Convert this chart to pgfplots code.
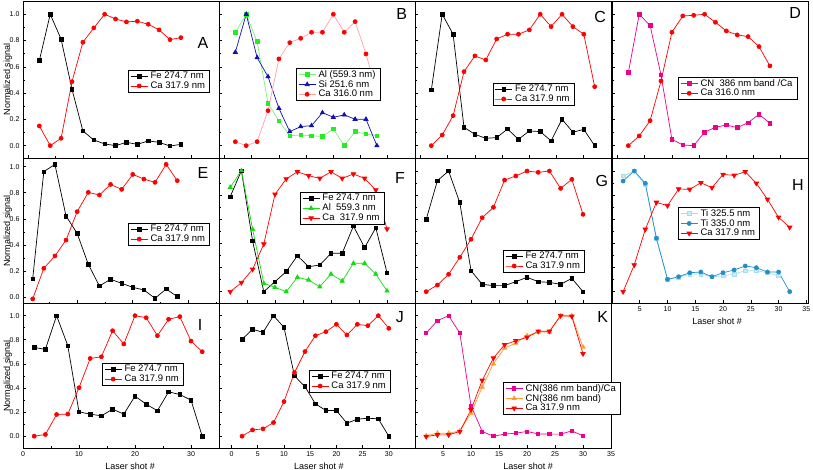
\documentclass[border=0pt]{standalone}
\usepackage{fontspec}
\setmainfont{Liberation Sans}
\usepackage{pgfplots}
\pgfplotsset{compat=1.18}
\definecolor{caPink}{HTML}{FF9FA8}
\definecolor{alGreen}{HTML}{22EE22}
\definecolor{alLine}{HTML}{7CF07C}
\definecolor{siBlue}{HTML}{1010B0}
\definecolor{tiLight}{HTML}{A8DCF0}
\definecolor{tiDark}{HTML}{1E8FC8}
\definecolor{cnOrange}{HTML}{FF9A30}
\definecolor{fGreen}{HTML}{11DD11}
\tikzset{letter/.style={font=\fontsize{16}{16}\selectfont}}
\pgfplotsset{
  panel/.style={
    scale only axis, width=196pt,
    axis line style={line width=0.8pt},
    tick align=inside, xtick pos=bottom, ytick pos=left,
    major tick length=3pt, minor tick length=1.8pt,
    every tick/.style={black, line width=0.6pt},
    ytick={0,0.2,0.4,0.6,0.8,1}, minor ytick={0.1,0.3,0.5,0.7,0.9},
    yticklabels={}, xticklabels={},
    xtick={0,5,10,15,20,25,30,35},
    /pgf/number format/assume math mode=true,
    tick label style={font=\fontsize{7}{8}\selectfont},
    label style={font=\fontsize{9}{10}\selectfont},
    legend cell align=left,
    legend style={draw=black, line width=0.5pt, font=\fontsize{9.5}{10}\selectfont,
      anchor=north west, inner xsep=2pt, inner ysep=1.2pt, row sep=0pt,
      nodes={inner ysep=0.8pt, inner xsep=2.5pt}},
    every axis plot/.append style={line width=0.7pt},
  },
  col1/.style={ytick={0,0.2,0.4,0.6,0.8,1}, yticklabels={0.0,0.2,0.4,0.6,0.8,1.0},
    ylabel={Normalized signal},
    ylabel style={at={(axis description cs:-0.077,0.5)}, anchor=center},
    xtick={0,10,20,30}, minor xtick={5,15,25,35}},
  xlab/.style={xlabel={Laser shot \#},
    xlabel style={at={(axis description cs:#1,0)}, anchor=center, yshift=-18pt}},
  row1/.style={height=157pt, ymin=-0.094, ymax=1.101},
  row3/.style={height=144.5pt, ymin=-0.098, ymax=1.101},
  rowtwo/.style={height=145.5pt, ymin=-0.098, ymax=1.108},
  fe/.style={black, mark=square*, mark size=1.8pt, mark options={solid}},
  ca/.style={red, mark=*, mark size=2pt, mark options={solid}},
  catri/.style={red, mark=triangle*, mark size=2.6pt, mark options={solid, rotate=180}},
}
\begin{document}
\begin{tikzpicture}
\useasboundingbox (0pt,0pt) rectangle (813pt,470pt);
% ---------------- Row 1 ----------------
% A
\begin{axis}[panel, row1, col1, at={(23pt,312pt)}, xmin=-1, xmax=35,
  legend style={at={(axis description cs:0.536,0.561)}}]
\addplot[fe] coordinates {(2,0.647)(4,1.0)(6,0.81)(8,0.429)(10,0.112)(12,0.043)(14,0.013)(16,0.0)(18,0.025)(20,0.010)(22,0.036)(24,0.025)(26,-0.003)(28,0.010)};
\addplot[ca] coordinates {(2,0.150)(4,0.0)(6,0.056)(8,0.487)(10,0.787)(12,0.896)(14,1.0)(16,0.964)(18,0.942)(20,0.947)(22,0.924)(24,0.881)(26,0.807)(28,0.822)};
\legend{Fe 274.7 nm, Ca 317.9 nm}
\node[letter] at (rel axis cs:0.918,0.732) {A};
\end{axis}
% B
\begin{axis}[panel, row1, at={(219pt,312pt)}, xmin=-1, xmax=35,
  legend style={at={(axis description cs:0.393,0.573)}}]
\addplot[alLine, mark=square*, mark size=1.8pt, mark options={solid, fill=alGreen, draw=alGreen}] coordinates {(2,0.863)(4,1.0)(6,0.792)(8,0.322)(10,0.188)(12,0.076)(14,0.081)(16,0.076)(18,0.069)(20,0.127)(22,0.0)(24,0.107)(26,0.089)(28,0.076)};
\addplot[siBlue, mark=triangle*, mark size=2.4pt, mark options={solid, fill=siBlue}] coordinates {(2,0.711)(4,1.0)(6,0.670)(8,0.525)(10,0.284)(12,0.107)(14,0.145)(16,0.152)(18,0.251)(20,0.216)(22,0.234)(24,0.201)(26,0.201)(28,0.0)};
\addplot[caPink, mark=*, mark size=2pt, mark options={solid, fill=red, draw=red}] coordinates {(2,0.030)(4,0.0)(6,0.030)(8,0.266)(10,0.660)(12,0.784)(14,0.817)(16,0.863)(18,0.863)(20,1.0)(22,0.863)(24,0.944)(26,0.698)(28,0.404)};
\legend{Al (559.3 nm), Si 251.6 nm, Ca 316.0 nm}
\node[letter] at (rel axis cs:0.932,0.917) {B};
\end{axis}
% C
\begin{axis}[panel, row1, at={(415pt,312pt)}, xmin=-1, xmax=35,
  legend style={at={(axis description cs:0.396,0.478)}}]
\addplot[fe] coordinates {(2,0.424)(4,1.0)(6,0.848)(8,0.140)(10,0.086)(12,0.056)(14,0.061)(16,0.127)(18,0.048)(20,0.112)(22,0.107)(24,0.036)(26,0.201)(28,0.102)(30,0.124)(32,0.0)};
\addplot[ca] coordinates {(2,0.0)(4,0.081)(6,0.228)(8,0.563)(10,0.683)(12,0.652)(14,0.812)(16,0.848)(18,0.848)(20,0.881)(22,1.0)(24,0.906)(26,1.0)(28,0.906)(30,0.848)(32,0.449)};
\legend{Fe 274.7 nm, Ca 317.9 nm}
\node[letter] at (rel axis cs:0.944,0.898) {C};
\end{axis}
% D
\begin{axis}[panel, row1, at={(612pt,312pt)}, xmin=-1, xmax=35,
  legend style={at={(axis description cs:0.337,0.516)}}]
\addplot[magenta, mark=square*, mark size=1.8pt, mark options={solid}] coordinates {(2,0.556)(4,1.0)(6,0.914)(8,0.538)(10,0.048)(12,0.005)(14,0.0)(16,0.102)(18,0.140)(20,0.157)(22,0.137)(24,0.175)(26,0.239)(28,0.170)};
\addplot[ca] coordinates {(2,0.0)(4,0.074)(6,0.190)(8,0.492)(10,0.863)(12,0.987)(14,0.992)(16,1.0)(18,0.939)(20,0.873)(22,0.843)(24,0.830)(26,0.754)(28,0.607)};
\legend{CN~~386 nm band /Ca, Ca 316.0 nm}
\node[letter] at (rel axis cs:0.934,0.924) {D};
\end{axis}
% ---------------- Row 2 ----------------
% E
\begin{axis}[panel, col1, height=145.5pt, ymin=-0.05, ymax=1.067, at={(23pt,166.5pt)}, xmin=0.26, xmax=35.5,
  legend style={at={(axis description cs:0.536,0.553)}}]
\addplot[fe] coordinates {(2,0.138)(4,0.962)(6,1.018)(8,0.621)(10,0.488)(12,0.251)(14,0.084)(16,0.136)(18,0.105)(20,0.074)(22,0.054)(24,-0.010)(26,0.061)(28,0.003)};
\addplot[ca] coordinates {(2,-0.015)(4,0.220)(6,0.315)(8,0.437)(10,0.655)(12,0.803)(14,0.783)(16,0.864)(18,0.826)(20,0.941)(22,0.905)(24,0.880)(26,1.018)(28,0.893)};
\legend{Fe 274.7 nm, Ca 317.9 nm}
\node[letter] at (rel axis cs:0.918,0.897) {E};
\end{axis}
% F
\begin{axis}[panel, rowtwo, at={(219pt,166.5pt)}, xmin=0, xmax=35,
  legend style={at={(axis description cs:0.413,0.766)}}]
\addplot[fe] coordinates {(2,0.787)(4,1.003)(6,0.420)(8,0.0)(10,0.083)(12,0.166)(14,0.298)(16,0.207)(18,0.221)(20,0.318)(22,0.318)(24,0.544)(26,0.365)(28,0.530)(30,0.157)};
\addplot[fGreen, mark=triangle*, mark size=2.4pt, mark options={solid}] coordinates {(2,0.865)(4,1.003)(6,0.517)(8,0.069)(10,0.036)(12,0.0)(14,0.119)(16,0.097)(18,0.041)(20,0.146)(22,0.088)(24,0.235)(26,0.235)(28,0.146)(30,0.006)};
\addplot[catri] coordinates {(2,0.0)(4,0.075)(6,0.185)(8,0.395)(10,0.807)(12,0.934)(14,0.994)(16,0.961)(18,0.939)(20,0.994)(22,0.939)(24,0.975)(26,0.939)(28,0.843)(30,0.519)};
\legend{Fe 274.7 nm, Al~~559.3 nm, Ca~~317.9 nm}
\node[letter] at (rel axis cs:0.923,0.863) {F};
\end{axis}
% G
\begin{axis}[panel, rowtwo, at={(415pt,166.5pt)}, xmin=0, xmax=35,
  legend style={at={(axis description cs:0.449,0.368)}}]
\addplot[fe] coordinates {(2,0.599)(4,0.920)(6,1.0)(8,0.738)(10,0.174)(12,0.061)(14,0.050)(16,0.050)(18,0.083)(20,0.119)(22,0.083)(24,0.077)(26,0.061)(28,0.110)(30,0.0)};
\addplot[ca] coordinates {(2,0.0)(4,0.055)(6,0.144)(8,0.285)(10,0.434)(12,0.613)(14,0.699)(16,0.925)(18,0.959)(20,1.0)(22,0.989)(24,1.0)(26,0.856)(28,0.931)(30,0.641)};
\legend{Fe 274.7 nm, Ca 317.9 nm}
\node[letter] at (rel axis cs:0.953,0.844) {G};
\end{axis}
% H
\begin{axis}[panel, rowtwo, xlab=0.536, at={(612pt,166.5pt)}, xmin=0, xmax=35.3,
  xtick={5,10,15,20,25,30,35}, xticklabels={5,10,15,20,25,30,35},
  legend style={at={(axis description cs:0.337,0.663)}}]
\addplot[tiLight, mark=square*, mark size=1.8pt, mark options={solid, fill=tiLight!60, draw=tiLight}] coordinates {(2,0.959)(4,1.0)(6,0.884)(8,0.442)(10,0.102)(12,0.119)(14,0.146)(16,0.146)(18,0.124)(20,0.130)(22,0.146)(24,0.174)(26,0.174)(28,0.157)(30,0.130)};
\addplot[tiDark, mark=*, mark size=2pt, mark options={solid}] coordinates {(2,0.917)(4,1.0)(6,0.898)(8,0.442)(10,0.102)(12,0.124)(14,0.157)(16,0.163)(18,0.124)(20,0.157)(22,0.180)(24,0.213)(26,0.199)(28,0.163)(30,0.163)(32,0.0)};
\addplot[catri] coordinates {(2,0.0)(4,0.221)(6,0.517)(8,0.740)(10,0.713)(12,0.851)(14,0.848)(16,0.903)(18,0.862)(20,0.972)(22,0.964)(24,0.994)(26,0.898)(28,0.765)(30,0.616)(32,0.533)};
\legend{Ti 325.5 nm, Ti 335.0 nm, Ca 317.9 nm}
\node[letter] at (rel axis cs:0.949,0.814) {H};
\end{axis}
% ---------------- Row 3 ----------------
% I
\begin{axis}[panel, row3, col1, xlab=0.546, at={(23pt,22pt)}, xmin=0, xmax=35,
  xticklabels={0,10,20,30},
  legend style={at={(axis description cs:0.403,0.588)}}]
\addplot[fe] coordinates {(2,0.737)(4,0.720)(6,1.0)(8,0.751)(10,0.202)(12,0.183)(14,0.169)(16,0.224)(18,0.183)(20,0.332)(22,0.266)(24,0.211)(26,0.368)(28,0.346)(30,0.299)(32,0.0)};
\addplot[ca] coordinates {(2,0.0)(4,0.014)(6,0.180)(8,0.183)(10,0.402)(12,0.645)(14,0.659)(16,0.875)(18,0.765)(20,1.0)(22,0.983)(24,0.834)(26,0.970)(28,0.992)(30,0.789)(32,0.701)};
\legend{Fe 274.7 nm, Ca 317.9 nm}
\node[letter] at (rel axis cs:0.903,0.851) {I};
\end{axis}
% J
\begin{axis}[panel, row3, xlab=0.51, at={(219pt,22pt)}, xmin=-2.4, xmax=35,
  xtick={0,5,10,15,20,25,30}, xticklabels={0,5,10,15,20,25,30},
  legend style={at={(axis description cs:0.459,0.54)}}]
\addplot[fe] coordinates {(2,0.804)(4,0.887)(6,0.862)(8,1.0)(10,0.903)(12,0.500)(14,0.412)(16,0.268)(18,0.213)(20,0.213)(22,0.108)(24,0.141)(26,0.149)(28,0.144)(30,0.0)};
\addplot[ca] coordinates {(2,0.0)(4,0.052)(6,0.061)(8,0.113)(10,0.287)(12,0.528)(14,0.702)(16,0.834)(18,0.867)(20,0.928)(22,0.840)(24,0.928)(26,0.917)(28,1.0)(30,0.895)};
\legend{Fe 274.7 nm, Ca 317.9 nm}
\node[letter] at (rel axis cs:0.923,0.909) {J};
\end{axis}
% K
\begin{axis}[panel, row3, xlab=0.577, at={(415pt,22pt)}, xmin=0, xmax=35,
  xtick={5,10,15,20,25,30,35}, xticklabels={5,10,15,20,25,30,35},
  legend style={at={(axis description cs:0.449,0.457)}}]
\addplot[magenta, mark=square*, mark size=1.6pt, mark options={solid}] coordinates {(2,0.856)(4,0.958)(6,1.0)(8,0.856)(10,0.252)(12,0.039)(14,0.0)(16,0.017)(18,0.025)(20,0.039)(22,0.019)(24,0.017)(26,0.017)(28,0.044)(30,0.003)};
\addplot[cnOrange, mark=triangle*, mark size=2.4pt, mark options={solid}] coordinates {(2,0.003)(4,0.025)(6,0.025)(8,0.044)(10,0.191)(12,0.407)(14,0.601)(16,0.731)(18,0.773)(20,0.834)(22,0.864)(24,0.864)(26,1.0)(28,1.0)(30,0.740)};
\addplot[catri] coordinates {(2,-0.003)(4,0.011)(6,0.011)(8,0.039)(10,0.219)(12,0.463)(14,0.648)(16,0.759)(18,0.792)(20,0.820)(22,0.870)(24,0.870)(26,1.0)(28,0.994)(30,0.684)};
\legend{CN(386 nm band)/Ca, CN(386 nm band), Ca 317.9 nm}
\node[letter] at (rel axis cs:0.958,0.909) {K};
\end{axis}
\end{tikzpicture}
\end{document}
